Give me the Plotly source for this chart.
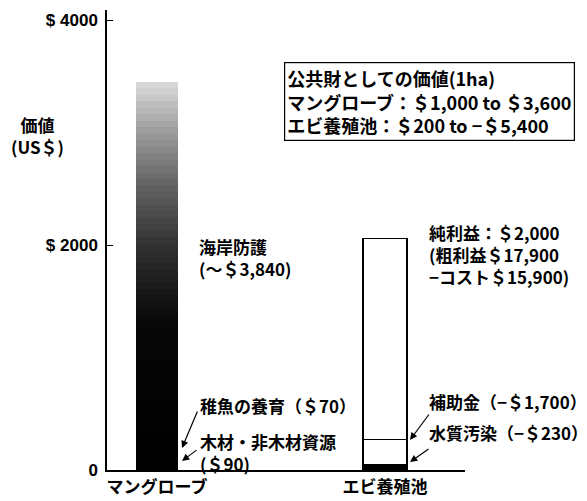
import plotly.graph_objects as go

# ---- data ----
categories = ["マングローブ", "エビ養殖池"]
mangrove_total = 3450          # height of the mangrove bar (gradient)
shrimp_pollution = 45          # black bottom segment
shrimp_subsidy_top = 268       # line inside shrimp bar
shrimp_total = 2060            # top of shrimp bar
y_tickvals = [0, 2000, 4000]
y_ticktext = ["0", "$ 2000", "$ 4000"]

FONT = "Noto Sans CJK JP"
L, R, T, B = 107, 122, 10, 31
W, H = 587, 501
PW, PH = W - L - R, H - T - B


def px(x):
    return (x - L) / PW


def py(y):
    return (H - B - y) / PH


fig = go.Figure()

# mangrove gradient bar built from stacked slices of its total
N = 60
stops = [(0.0, 0), (0.38, 8), (0.58, 50), (0.75, 105), (0.88, 160), (1.0, 220)]


def gray(f):
    for (f0, g0), (f1, g1) in zip(stops[:-1], stops[1:]):
        if f0 <= f <= f1:
            g = g0 + (g1 - g0) * (f - f0) / (f1 - f0)
            return f"rgb({int(g)},{int(g)},{int(g)})"
    return "rgb(220,220,220)"


seg = mangrove_total / N
for i in range(N):
    fig.add_trace(go.Bar(x=[0], y=[seg], width=0.184,
                         marker=dict(color=gray((i + 0.5) / N), line=dict(width=0)),
                         showlegend=False, hoverinfo="skip"))

# shrimp pond bar
shrimp_segments = [shrimp_pollution, shrimp_subsidy_top - shrimp_pollution,
                   shrimp_total - shrimp_subsidy_top]
shrimp_colors = ["black", "white", "white"]
for h, c in zip(shrimp_segments, shrimp_colors):
    fig.add_trace(go.Bar(x=[1], y=[h], width=0.193,
                         marker=dict(color=c, line=dict(color="black", width=1.2)),
                         showlegend=False, hoverinfo="skip"))

fig.update_layout(
    width=W, height=H, barmode="stack",
    margin=dict(l=L, r=R, t=T, b=B),
    plot_bgcolor="white", paper_bgcolor="white",
    font=dict(family=FONT, size=17, color="black", weight="bold"),
    xaxis=dict(range=[-0.219, 1.351], tickvals=[0, 1], ticktext=categories,
               showline=True, linecolor="black", linewidth=1.5, ticks="",
               showgrid=False, zeroline=False, ticklabelstandoff=1, automargin=False,
               tickfont=dict(size=17, family=FONT, weight="bold")),
    yaxis=dict(range=[0, 4090], tickvals=y_tickvals, ticktext=y_ticktext,
               showline=True, linecolor="black", linewidth=1.5, ticks="inside",
               ticklen=6, tickcolor="black", showgrid=False, zeroline=False,
               tickfont=dict(size=17, family="Liberation Sans", weight="bold"),
               ticklabelstandoff=4, automargin=False),
)

ann = []


def text(x, y, t, xanchor="left", yanchor="middle", align="left", size=17):
    ann.append(dict(x=px(x), y=py(y), xref="paper", yref="paper", text=t,
                    showarrow=False, xanchor=xanchor, yanchor=yanchor, align=align,
                    font=dict(size=size)))


def arrow(x0, y0, x1, y1):
    ann.append(dict(x=px(x1), y=py(y1), xref="paper", yref="paper", text="",
                    showarrow=True, ax=x0 - x1, ay=y0 - y1, arrowhead=2,
                    arrowsize=1.2, arrowwidth=1.2, arrowcolor="black"))


text(37, 135, "価値<br>(US＄)", xanchor="center", align="center")
text(197, 257, "海岸防護<br>(～＄3,840)")
text(198, 405, "稚魚の養育（＄70）")
text(198, 452, "木材・非木材資源<br>(＄90)")
text(427, 255, "純利益：＄2,000<br>(粗利益＄17,900<br>−コスト＄15,900)")
text(427, 401, "補助金（−＄1,700）")
text(427, 432, "水質汚染（−＄230）")
ann.append(dict(x=px(284), y=py(62), xref="paper", yref="paper",
                text="公共財としての価値(1ha)<br>マングローブ：＄1,000 to ＄3,600<br>エビ養殖池：＄200 to −＄5,400",
                showarrow=False, xanchor="left", yanchor="top", align="left",
                font=dict(size=18),
                bordercolor="black", borderwidth=1.2, borderpad=2, bgcolor="white"))

arrow(198, 410, 182, 448)
arrow(198, 449, 182, 461)
arrow(430, 413, 410, 440)
arrow(430, 448, 410, 462)

fig.update_layout(annotations=ann)
fig.write_html("out.html")
